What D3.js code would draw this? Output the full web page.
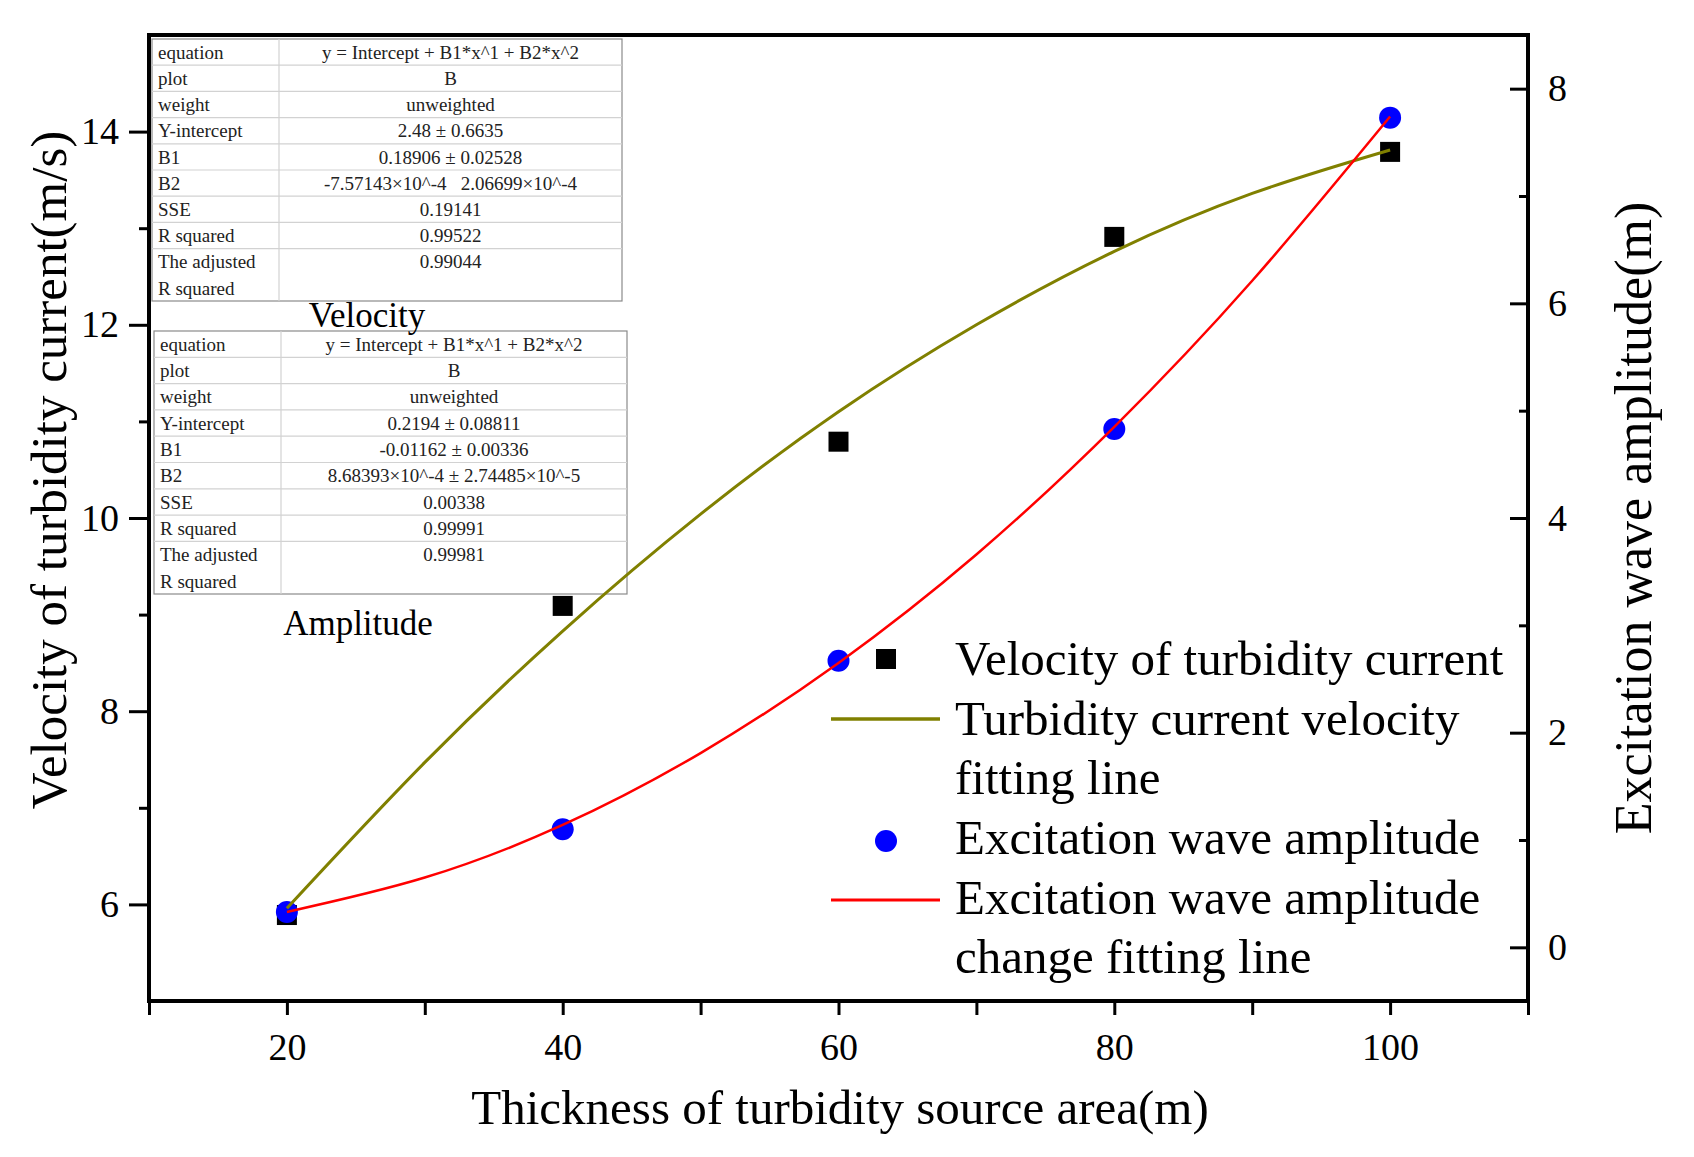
<!DOCTYPE html>
<html>
<head>
<meta charset="utf-8">
<script src="https://cdn.jsdelivr.net/npm/d3@7"></script>
<style>
  html, body { margin: 0; padding: 0; background: #fff; }
  svg { display: block; font-family: "Liberation Serif", "Times New Roman", serif; }
</style>
</head>
<body>
<svg id="chart" width="1694" height="1157"></svg>
<script>
// ---------------- data ----------------
const thickness = [20, 40, 60, 80, 100];
const velocity = [5.89, 9.09, 10.79, 12.91, 13.79];
const amplitude = [0.33, 1.10, 2.67, 4.83, 7.73];

// fitted curves read at stations along x
const fitX = [20, 30, 40, 50, 60, 70, 80, 90, 100];
const velocityFit = [5.96, 7.47, 8.83, 10.04, 11.10, 12.00, 12.76, 13.36, 13.81];
const amplitudeFit = [0.33, 0.65, 1.14, 1.81, 2.65, 3.66, 4.85, 6.21, 7.74];

const xTicks = [20, 40, 60, 80, 100];
const xMinorTicks = [10, 30, 50, 70, 90, 110];
const yLeftTicks = [6, 8, 10, 12, 14];
const yLeftMinor = [7, 9, 11, 13];
const yRightTicks = [0, 2, 4, 6, 8];
const yRightMinor = [1, 3, 5, 7];

const tableLabels = ["equation", "plot", "weight", "Y-intercept", "B1", "B2", "SSE", "R squared", "The adjusted|R squared"];
const velocityTable = ["y = Intercept + B1*x^1 + B2*x^2", "B", "unweighted", "2.48 \u00b1 0.6635", "0.18906 \u00b1 0.02528",
  "-7.57143\u00d710^-4 \u00a0 2.06699\u00d710^-4", "0.19141", "0.99522", "0.99044"];
const amplitudeTable = ["y = Intercept + B1*x^1 + B2*x^2", "B", "unweighted", "0.2194 \u00b1 0.08811", "-0.01162 \u00b1 0.00336",
  "8.68393\u00d710^-4 \u00b1 2.74485\u00d710^-5", "0.00338", "0.99991", "0.99981"];

const legendItems = [
  { type: "square", lines: ["Velocity of turbidity current"] },
  { type: "olive", lines: ["Turbidity current velocity", "fitting line"] },
  { type: "circle", lines: ["Excitation wave amplitude"] },
  { type: "red", lines: ["Excitation wave amplitude", "change fitting line"] }
];

// ---------------- layout ----------------
const svg = d3.select("#chart");
const L = 149, R = 1528, T = 35, B = 1001;
const x = d3.scaleLinear().domain([10, 110]).range([L, R]);
const yL = d3.scaleLinear().domain([5, 15]).range([B, T]);
const yR = d3.scaleLinear().domain([-0.5, 8.5]).range([B, T]);

const OLIVE = "#808000", RED = "#ff0000", BLUE = "#0000ff";

svg.append("rect").attr("width", 1694).attr("height", 1157).attr("fill", "#fff");

// ---------------- axes ----------------
function styleAxis(g, fs) {
  g.select(".domain").remove();
  g.selectAll(".tick line").attr("stroke", "#000").attr("stroke-width", 3);
  g.selectAll(".tick text").attr("fill", "#000").style("font-size", fs + "px")
    .style("font-family", "'Liberation Serif', serif");
}

// left major / minor
svg.append("g").attr("transform", `translate(${L},0)`)
  .call(d3.axisLeft(yL).tickValues(yLeftTicks).tickSize(20).tickPadding(10).tickFormat(d3.format("d")))
  .call(g => styleAxis(g, 38));
svg.append("g").attr("transform", `translate(${L},0)`)
  .call(d3.axisLeft(yL).tickValues(yLeftMinor).tickSize(10).tickFormat(""))
  .call(g => styleAxis(g, 38));

// right (inward ticks)
svg.append("g").attr("transform", `translate(${R},0)`)
  .call(d3.axisRight(yR).tickValues(yRightTicks).tickSizeInner(-18).tickSizeOuter(0).tickPadding(20).tickFormat(d3.format("d")))
  .call(g => styleAxis(g, 38));
svg.append("g").attr("transform", `translate(${R},0)`)
  .call(d3.axisRight(yR).tickValues(yRightMinor).tickSizeInner(-9).tickSizeOuter(0).tickFormat(""))
  .call(g => styleAxis(g, 38));

// bottom
svg.append("g").attr("transform", `translate(0,${B})`)
  .call(d3.axisBottom(x).tickValues(xTicks).tickSize(14).tickPadding(18).tickFormat(d3.format("d")))
  .call(g => styleAxis(g, 38));
svg.append("g").attr("transform", `translate(0,${B})`)
  .call(d3.axisBottom(x).tickValues(xMinorTicks).tickSize(14).tickFormat(""))
  .call(g => styleAxis(g, 38));

// frame
svg.append("rect").attr("x", L).attr("y", T).attr("width", R - L).attr("height", B - T)
  .attr("fill", "none").attr("stroke", "#000").attr("stroke-width", 4);

// axis titles
svg.append("text").attr("x", 840).attr("y", 1124).attr("text-anchor", "middle")
  .style("font-size", "49px").text("Thickness of turbidity source area(m)");
svg.append("text").attr("transform", "translate(66,470) rotate(-90)").attr("text-anchor", "middle")
  .style("font-size", "51px").text("Velocity of turbidity current(m/s)");
svg.append("text").attr("transform", "translate(1651,518) rotate(-90)").attr("text-anchor", "middle")
  .style("font-size", "52px").text("Excitation wave amplitude(m)");

// ---------------- tables ----------------
function drawTable(x0, y0, w, divX, rowH, values) {
  const g = svg.append("g");
  const rowHeights = tableLabels.map(l => l.includes("|") ? rowH * 2 : rowH);
  const tops = [];
  let acc = y0;
  rowHeights.forEach(h => { tops.push(acc); acc += h; });
  const h = acc - y0;
  g.append("rect").attr("x", x0).attr("y", y0).attr("width", w).attr("height", h)
    .attr("fill", "#fff").attr("stroke", "#8a8a8a").attr("stroke-width", 1.2);
  g.selectAll("line.row").data(tops.slice(1)).join("line")
    .attr("x1", x0).attr("x2", x0 + w).attr("y1", d => d).attr("y2", d => d)
    .attr("stroke", "#d2d2d2").attr("stroke-width", 1.2);
  g.append("line").attr("x1", divX).attr("x2", divX).attr("y1", y0).attr("y2", y0 + h)
    .attr("stroke", "#d2d2d2").attr("stroke-width", 1.2);
  tableLabels.forEach((lab, i) => {
    lab.split("|").forEach((part, j) => {
      g.append("text").attr("x", x0 + 6).attr("y", tops[i] + rowH / 2 + j * rowH).attr("dy", "0.35em")
        .style("font-size", "19px").attr("fill", "#222").text(part);
    });
    g.append("text").attr("x", (divX + x0 + w) / 2).attr("y", tops[i] + rowH / 2).attr("dy", "0.35em")
      .attr("text-anchor", "middle").style("font-size", "19px").attr("fill", "#222")
      .attr("xml:space", "preserve").text(values[i]);
  });
}
drawTable(152, 39, 470, 279, 26.2, velocityTable);
drawTable(154, 331, 473, 281, 26.3, amplitudeTable);

svg.append("text").attr("x", 367).attr("y", 327).attr("text-anchor", "middle")
  .style("font-size", "35px").text("Velocity");
svg.append("text").attr("x", 358).attr("y", 635).attr("text-anchor", "middle")
  .style("font-size", "35px").text("Amplitude");

// ---------------- data marks ----------------
const sq = 20;
svg.append("g").selectAll("rect").data(thickness).join("rect")
  .attr("x", (d) => x(d) - sq / 2).attr("y", (d, i) => yL(velocity[i]) - sq / 2)
  .attr("width", sq).attr("height", sq).attr("fill", "#000");

svg.append("g").selectAll("circle").data(thickness).join("circle")
  .attr("cx", d => x(d)).attr("cy", (d, i) => yR(amplitude[i])).attr("r", 11).attr("fill", BLUE);

const velLine = d3.line().x(d => x(d[0])).y(d => yL(d[1])).curve(d3.curveNatural);
const ampLine = d3.line().x(d => x(d[0])).y(d => yR(d[1])).curve(d3.curveNatural);
svg.append("path").datum(fitX.map((v, i) => [v, velocityFit[i]])).attr("d", velLine)
  .attr("fill", "none").attr("stroke", OLIVE).attr("stroke-width", 3);
svg.append("path").datum(fitX.map((v, i) => [v, amplitudeFit[i]])).attr("d", ampLine)
  .attr("fill", "none").attr("stroke", RED).attr("stroke-width", 2.5);

// ---------------- legend ----------------
const lg = svg.append("g");
const symX = 886, lineX1 = 831, lineX2 = 940, textX = 955;
const baselines = [[675], [735, 794], [854], [914, 973]];
const symY = [659, 719, 841, 900];
legendItems.forEach((item, i) => {
  if (item.type === "square") {
    lg.append("rect").attr("x", symX - sq / 2).attr("y", symY[i] - sq / 2).attr("width", sq).attr("height", sq).attr("fill", "#000");
  } else if (item.type === "circle") {
    lg.append("circle").attr("cx", symX).attr("cy", symY[i]).attr("r", 11).attr("fill", BLUE);
  } else {
    lg.append("line").attr("x1", lineX1).attr("x2", lineX2).attr("y1", symY[i]).attr("y2", symY[i])
      .attr("stroke", item.type === "olive" ? OLIVE : RED).attr("stroke-width", item.type === "olive" ? 3.5 : 3);
  }
  item.lines.forEach((t, j) => {
    lg.append("text").attr("x", textX).attr("y", baselines[i][j]).style("font-size", "49px").attr("fill", "#000").text(t);
  });
});
</script>
</body>
</html>
